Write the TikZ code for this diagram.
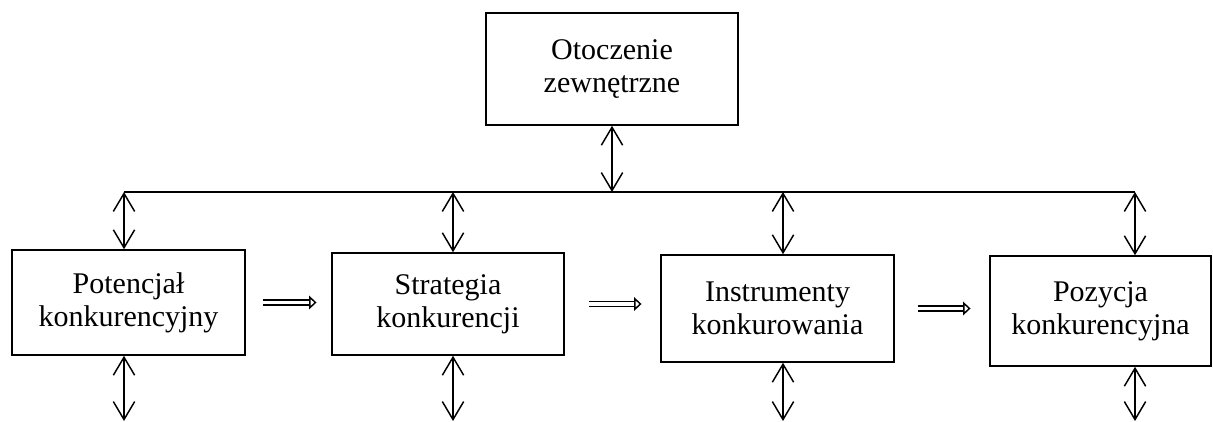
\documentclass[tikz,border=0pt]{standalone}
\usepackage{fontspec}
\setmainfont{Liberation Serif}
\usetikzlibrary{arrows.meta, positioning, calc}

\tikzset{
  box/.style={draw, line width=1.2pt, inner sep=2pt, align=center,
    font=\fontsize{22.5}{25}\selectfont},
  link/.style={line width=1.1pt, {Straight Barb[length=13.5pt, width=16pt]}-{Straight Barb[length=13.5pt, width=16pt]}},
  flow/.style={double, double distance=2.8pt, line width=1.1pt,
    -{Triangle[open, length=5.5pt, width=10pt]}}
}

\begin{document}
\begin{tikzpicture}[x=0.75pt, y=-0.75pt]
  \useasboundingbox (0,0) rectangle (1213,421);

  % boxes
  \node[box, minimum width=189pt, minimum height=84pt] (env) at (612,69)
    {Otoczenie\\zewnętrzne};
  \node[box, minimum width=174.75pt, minimum height=78.75pt] (pot) at (128.5,302.5)
    {Potencjał\\konkurencyjny};
  \node[box, minimum width=174pt, minimum height=76.5pt] (str) at (448,304)
    {Strategia\\konkurencji};
  \node[box, minimum width=174.75pt, minimum height=80.25pt] (ins) at (777.5,308.5)
    {Instrumenty\\konkurowania};
  \node[box, minimum width=165.75pt, minimum height=82.5pt] (poz) at (1100.5,311)
    {Pozycja\\konkurencyjna};

  % bus line
  \coordinate (bus1) at (124,192);
  \coordinate (bus2) at (453,192);
  \coordinate (bus3) at (783,192);
  \coordinate (bus4) at (1135,192);
  \draw[line width=1.4pt] (bus1) -- (bus4);
  \draw[link] (env.south) -- (env.south |- bus1);

  % links to bus and below
  \foreach \n/\b in {pot/bus1, str/bus2, ins/bus3, poz/bus4} {
    \coordinate (\n-out) at (\b |- 0,421);
    \draw[link] (\b) -- (\b |- \n.north);
    \draw[link] (\b |- \n.south) -- (\n-out);
  }

  % flow arrows
  \draw[flow, shorten <=12.75pt, shorten >=11pt] (pot.east) -- (pot.east -| str.west);
  \draw[flow, shorten <=18pt, shorten >=14pt] (str.east) -- (str.east -| ins.west);
  \draw[flow, shorten <=17.25pt, shorten >=14pt] (ins.east) -- (ins.east -| poz.west);
\end{tikzpicture}
\end{document}
